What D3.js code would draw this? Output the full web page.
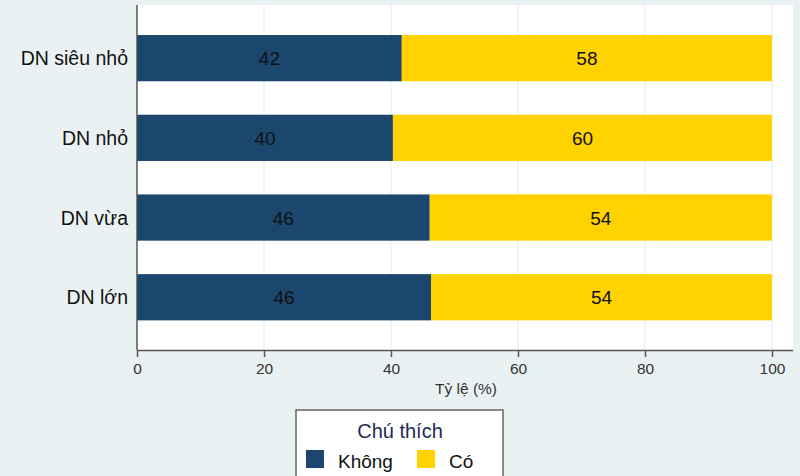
<!DOCTYPE html>
<html><head><meta charset="utf-8">
<script src="https://cdn.jsdelivr.net/npm/d3@7"></script>
<style>body{margin:0;background:#eaf1f3;}svg{display:block;font-family:"Liberation Sans",Arial,sans-serif;}</style>
</head><body>
<svg id="c" width="800" height="476"></svg>
<script>
const categories = ["DN siêu nhỏ", "DN nhỏ", "DN vừa", "DN lớn"];
const khong = [41.7, 40.3, 46.1, 46.3];
const co = [58.3, 59.7, 53.9, 53.7];
const khongLabels = ["42", "40", "46", "46"];
const coLabels = ["58", "60", "54", "54"];
const seriesNames = ["Không", "Có"];
const tickValues = [0, 20, 40, 60, 80, 100];
const colors = ["#1b466d", "#ffd200"];

const svg = d3.select("#c");
svg.append("rect").attr("width", 800).attr("height", 476).attr("fill", "#eaf1f3");

const plotL = 137, plotR = 793, plotT = 5, plotB = 350;
const x = d3.scaleLinear().domain([0, 100]).range([137, 772]);
const y = d3.scaleBand().domain(categories).range([18.3, 337.1]).paddingInner(0.42).paddingOuter(0.21);

svg.append("rect").attr("x", plotL).attr("y", plotT).attr("width", plotR - plotL).attr("height", plotB - plotT).attr("fill", "#fff");

// gridlines
svg.selectAll(".grid").data(tickValues.slice(1)).enter().append("line")
  .attr("x1", d => x(d)).attr("x2", d => x(d)).attr("y1", plotT).attr("y2", plotB)
  .attr("stroke", "#e1ebf0").attr("stroke-width", 1);

const data = categories.map((c, i) => ({c, k: khong[i], o: co[i], kl: khongLabels[i], ol: coLabels[i]}));
const g = svg.append("g");
data.forEach(d => {
  const cy = y(d.c) + y.bandwidth() / 2 + 7;
  g.append("rect").attr("x", x(0)).attr("y", y(d.c)).attr("width", x(d.k) - x(0)).attr("height", y.bandwidth()).attr("fill", colors[0]);
  g.append("rect").attr("x", x(d.k)).attr("y", y(d.c)).attr("width", x(d.k + d.o) - x(d.k)).attr("height", y.bandwidth()).attr("fill", colors[1]);
  g.append("text").attr("x", (x(0) + x(d.k)) / 2).attr("y", cy)
    .attr("text-anchor", "middle").attr("font-size", 19).attr("fill", "#111").text(d.kl);
  g.append("text").attr("x", (x(d.k) + x(d.k + d.o)) / 2).attr("y", cy)
    .attr("text-anchor", "middle").attr("font-size", 19).attr("fill", "#111").text(d.ol);
  g.append("text").attr("x", 128).attr("y", cy)
    .attr("text-anchor", "end").attr("font-size", 19.5).attr("fill", "#111").text(d.c);
});

// left axis line
svg.append("line").attr("x1", plotL).attr("x2", plotL).attr("y1", plotT).attr("y2", plotB).attr("stroke", "#555").attr("stroke-width", 1.5);

// bottom axis
const ax = svg.append("g").attr("transform", `translate(0,${plotB})`)
  .call(d3.axisBottom(x).tickValues(tickValues).tickSize(7).tickPadding(6));
ax.select(".domain").attr("d", `M${plotL},0.5H${plotR}`).attr("stroke", "#555").attr("stroke-width", 1.5);
ax.selectAll(".tick line").attr("stroke", "#555").attr("stroke-width", 1.5);
ax.selectAll(".tick text").attr("font-size", 15.5).attr("fill", "#333").attr("font-family", "Liberation Sans, Arial, sans-serif");

svg.append("text").attr("x", 466).attr("y", 394).attr("text-anchor", "middle").attr("font-size", 15.5).attr("fill", "#333").text("Tỷ lệ (%)");

// legend
const lg = svg.append("g");
lg.append("rect").attr("x", 296).attr("y", 410).attr("width", 207).attr("height", 80).attr("fill", "#fff").attr("stroke", "#666").attr("stroke-width", 1.5);
lg.append("text").attr("x", 400).attr("y", 438).attr("text-anchor", "middle").attr("font-size", 20).attr("fill", "#1f2a55").text("Chú thích");
const lx = [306, 417];
seriesNames.forEach((s, i) => {
  lg.append("rect").attr("x", lx[i]).attr("y", 450).attr("width", 18).attr("height", 18).attr("fill", colors[i]);
  lg.append("text").attr("x", lx[i] + 32).attr("y", 468).attr("font-size", 19).attr("fill", "#111").text(s);
});
</script>
</body></html>
